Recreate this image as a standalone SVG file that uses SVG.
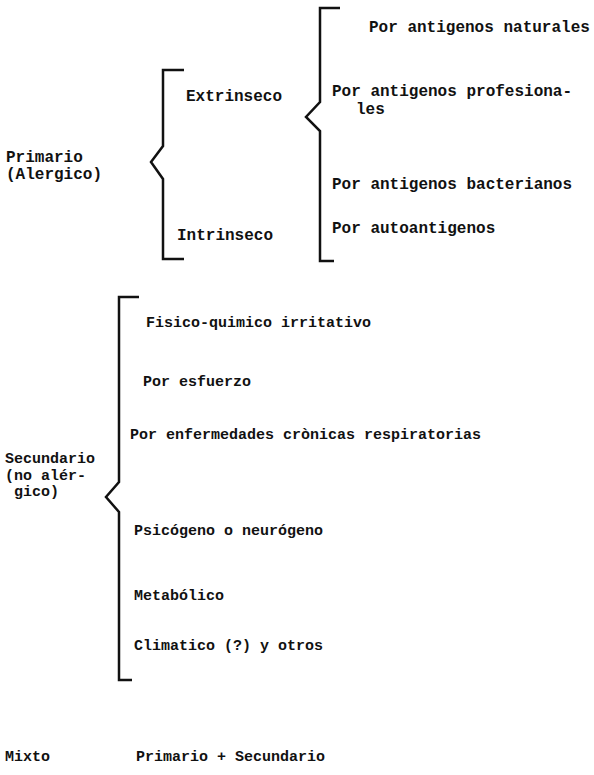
<svg xmlns="http://www.w3.org/2000/svg" width="594" height="775" viewBox="0 0 594 775">
<style>
text{font-family:"Liberation Mono","DejaVu Sans Mono",monospace;font-weight:bold;fill:#111}
.a{font-size:16px}
.b{font-size:15px}
.br{fill:none;stroke:#111;stroke-width:2.5;stroke-linejoin:miter}
</style>
<rect width="594" height="775" fill="#fff"/>
<g id="connectors">
<path class="br" d="M184,70 H163 V146 L151,162 L163,179 V259 H184"/>
<path class="br" d="M340,8 H320 V102 L306,117 L320,131 V261 H334"/>
<path class="br" d="M139,297 H119 V482 L106,497 L119,512 V680 H132"/>
</g>
<g id="primario"><text class="a" x="6" y="162">Primario</text><text class="a" x="6" y="179">(Alergico)</text></g>
<g id="extrinseco"><text class="a" x="186" y="101">Extrinseco</text></g>
<g id="intrinseco"><text class="a" x="177" y="240">Intrinseco</text></g>
<g id="naturales"><text class="a" x="369" y="32">Por antigenos naturales</text></g>
<g id="profesionales"><text class="a" x="332" y="96">Por antigenos profesiona-</text><text class="a" x="356" y="114">les</text></g>
<g id="bacterianos"><text class="a" x="332" y="189">Por antigenos bacterianos</text></g>
<g id="autoantigenos"><text class="a" x="332" y="233">Por autoantigenos</text></g>
<g id="secundario"><text class="b" x="5" y="463">Secundario</text><text class="b" x="5" y="480">(no alér-</text><text class="b" x="14" y="496">gico)</text></g>
<g id="fisico"><text class="b" x="146" y="327">Fisico-quimico irritativo</text></g>
<g id="esfuerzo"><text class="b" x="143" y="386">Por esfuerzo</text></g>
<g id="enfermedades"><text class="b" x="130" y="439">Por enfermedades crònicas respiratorias</text></g>
<g id="psicogeno"><text class="b" x="134" y="535">Psicógeno o neurógeno</text></g>
<g id="metabolico"><text class="b" x="134" y="600">Metabólico</text></g>
<g id="climatico"><text class="b" x="134" y="650">Climatico (?) y otros</text></g>
<g id="mixto"><text class="b" x="5" y="761">Mixto</text><text class="b" x="136" y="761">Primario + Secundario</text></g>
</svg>
